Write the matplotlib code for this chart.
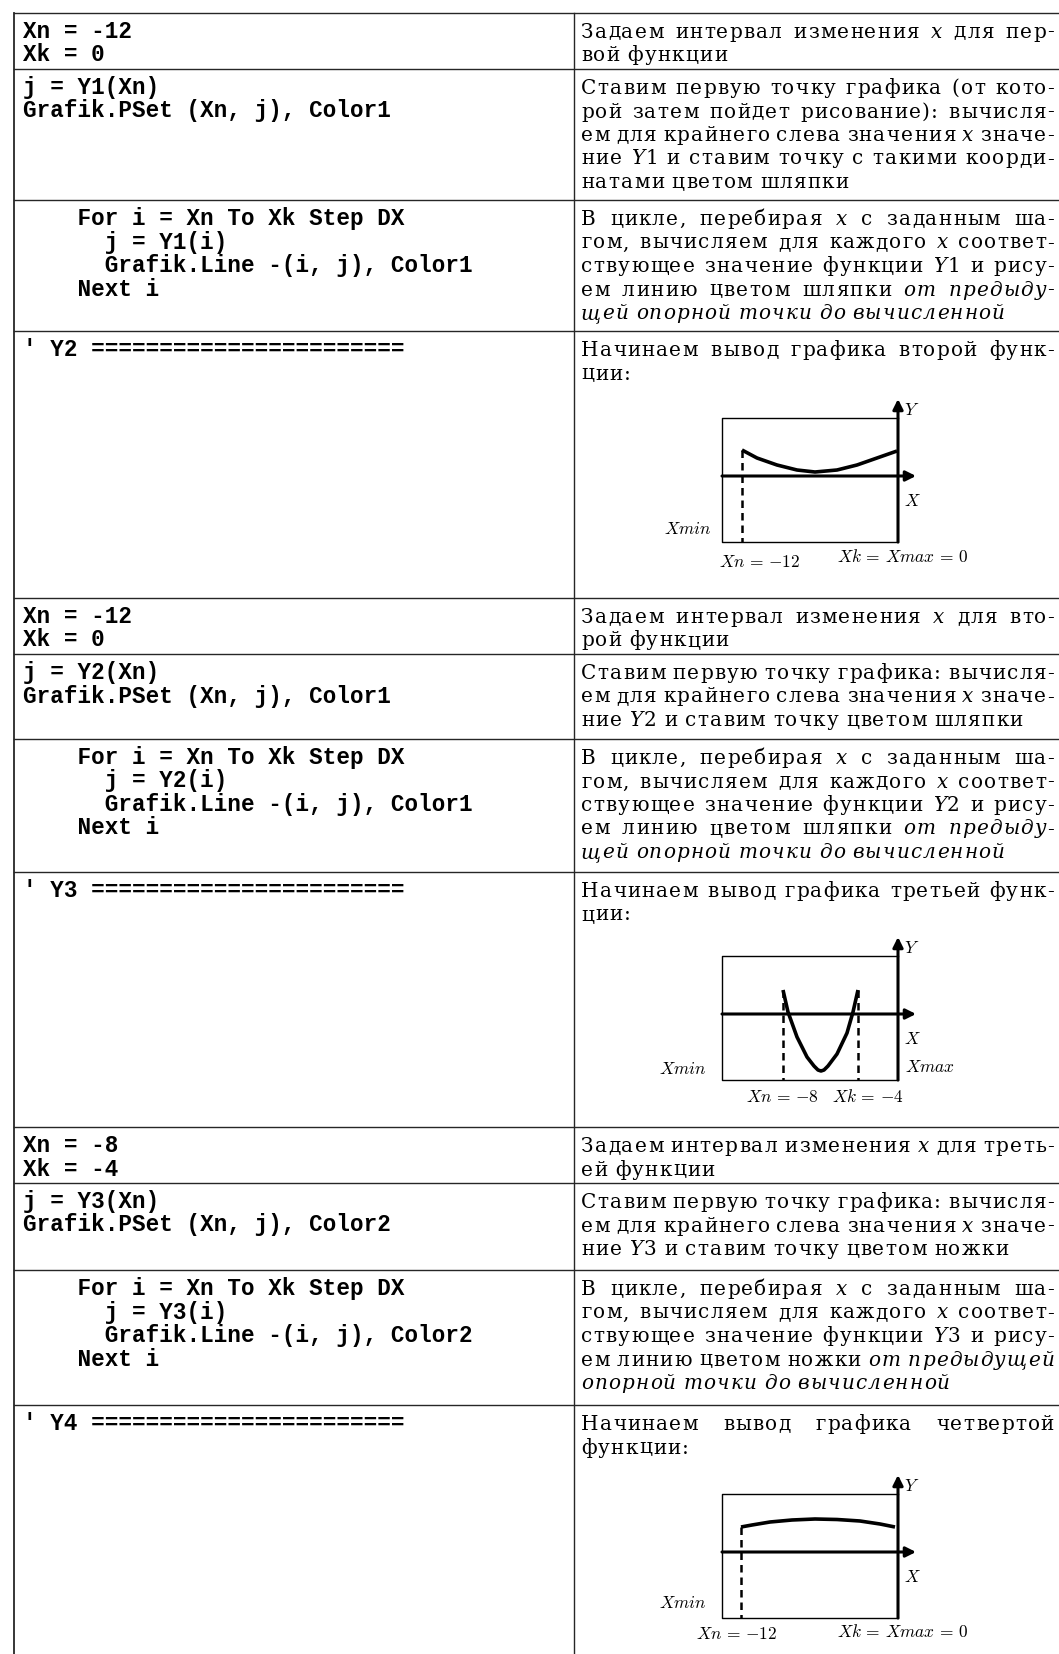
import matplotlib.pyplot as plt

W, H = 1059, 1654
plt.rcParams['mathtext.fontset'] = 'cm'

SERIF = 'DejaVu Serif'
MONO = 'Liberation Mono'
FS_TEXT = 14.4
FS_CODE = 16.3
FS_LAB = 12.5
TRACK = 1.2   # extra letter spacing, px

# table layout (pixels)
row_lines = [12.5, 69, 200, 331, 598, 654, 739, 872, 1127, 1183, 1270, 1405]
left_x = 14
col_x = 574
code_x = 23
text_x0, text_x1 = 581, 1054
first_base = 25
line_step = 23.5

code_cells = [
    ["Xn = -12", "Xk = 0"],
    ["j = Y1(Xn)", "Grafik.PSet (Xn, j), Color1"],
    ["    For i = Xn To Xk Step DX", "      j = Y1(i)",
     "      Grafik.Line -(i, j), Color1", "    Next i"],
    ["' Y2 ======================="],
    ["Xn = -12", "Xk = 0"],
    ["j = Y2(Xn)", "Grafik.PSet (Xn, j), Color1"],
    ["    For i = Xn To Xk Step DX", "      j = Y2(i)",
     "      Grafik.Line -(i, j), Color1", "    Next i"],
    ["' Y3 ======================="],
    ["Xn = -8", "Xk = -4"],
    ["j = Y3(Xn)", "Grafik.PSet (Xn, j), Color2"],
    ["    For i = Xn To Xk Step DX", "      j = Y3(i)",
     "      Grafik.Line -(i, j), Color2", "    Next i"],
    ["' Y4 ======================="],
]

# *...* = italic
text_cells = [
    ["Задаем интервал изменения *x* для пер-", "вой функции"],
    ["Ставим первую точку графика (от кото-", "рой затем пойдет рисование): вычисля-",
     "ем для крайнего слева значения *x* значе-", "ние *Y*1 и ставим точку с такими коорди-",
     "натами цветом шляпки"],
    ["В цикле, перебирая *x* с заданным ша-", "гом, вычисляем для каждого *x* соответ-",
     "ствующее значение функции *Y*1 и рису-", "ем линию цветом шляпки *от предыду-*",
     "*щей опорной точки до вычисленной*"],
    ["Начинаем вывод графика второй функ-", "ции:"],
    ["Задаем интервал изменения *x* для вто-", "рой функции"],
    ["Ставим первую точку графика: вычисля-", "ем для крайнего слева значения *x* значе-",
     "ние *Y*2 и ставим точку цветом шляпки"],
    ["В цикле, перебирая *x* с заданным ша-", "гом, вычисляем для каждого *x* соответ-",
     "ствующее значение функции *Y*2 и рису-", "ем линию цветом шляпки *от предыду-*",
     "*щей опорной точки до вычисленной*"],
    ["Начинаем вывод графика третьей функ-", "ции:"],
    ["Задаем интервал изменения *x* для треть-", "ей функции"],
    ["Ставим первую точку графика: вычисля-", "ем для крайнего слева значения *x* значе-",
     "ние *Y*3 и ставим точку цветом ножки"],
    ["В цикле, перебирая *x* с заданным ша-", "гом, вычисляем для каждого *x* соответ-",
     "ствующее значение функции *Y*3 и рису-", "ем линию цветом ножки *от предыдущей*",
     "*опорной точки до вычисленной*"],
    ["Начинаем вывод графика четвертой", "функции:"],
]

# sketch curves, pixels relative to the box corner (left, top)
curve1_x = [20, 35, 55, 75, 93, 115, 135, 155, 175]
curve1_y = [32, 40, 47, 52, 54, 52, 47, 40, 33]
curve2_x = [61, 66, 75, 85, 92, 96, 99, 102, 106, 115, 125, 131, 136]
curve2_y = [34, 56, 81, 101, 110, 114, 115, 114, 110, 98, 77, 56, 34]
curve3_x = [19, 30, 48, 70, 93, 115, 138, 158, 173]
curve3_y = [33, 31, 28, 26, 25, 25.5, 27, 30, 33]
dash1 = [20]
dash2 = [61, 136]
dash3 = [19]
labels1 = [(r'$Xmin$', -34, 111, 'center'), (r'$Xn\,=\,{-}12$', 38, 144, 'center'),
           (r'$Xk\,=\,Xmax\,=\,0$', 181, 139, 'center')]
labels2 = [(r'$Xmin$', -39, 113, 'center'), (r'$Xmax$', 183, 111, 'left'),
           (r'$Xn\,=\,{-}8$', 60, 141, 'center'), (r'$Xk\,=\,{-}4$', 146, 141, 'center')]
labels3 = [(r'$Xmin$', -39, 109, 'center'), (r'$Xn\,=\,{-}12$', 15, 140, 'center'),
           (r'$Xk\,=\,Xmax\,=\,0$', 181, 138, 'center')]

fig = plt.figure(figsize=(W / 100, H / 100), dpi=100)
ax = fig.add_axes([0, 0, 1, 1])
ax.set_xlim(0, W)
ax.set_ylim(H, 0)
ax.axis('off')
renderer = fig.canvas.get_renderer()

# grid
LC = '#262626'
ax.plot([left_x, left_x], [row_lines[0], H], color=LC, lw=1.3)
ax.plot([col_x, col_x], [row_lines[0], H], color=LC, lw=1.0)
for y in row_lines:
    ax.plot([left_x, W], [y, y], color=LC, lw=1.0)


def ink(s, ital):
    t = ax.text(0, 0, s, fontsize=FS_TEXT, family=SERIF,
                style='italic' if ital else 'normal')
    w = t.get_window_extent(renderer).width
    t.remove()
    return w

_adv = {}
def adv(c, ital):
    if (c, ital) not in _adv:
        _adv[(c, ital)] = ink('н' + c + 'н', ital) - ink('нн', ital)
    return _adv[(c, ital)]

SPACE = adv(' ', False)


def parse(line):
    words = [[]]
    for i, part in enumerate(line.split('*')):
        ital = i % 2 == 1
        pieces = part.split(' ')
        for k, p in enumerate(pieces):
            if k > 0:
                words.append([])
            if p:
                words[-1].append((p, ital))
    return [w for w in words if w]


def word_width(w):
    return sum(adv(c, it) + TRACK for s, it in w for c in s) - TRACK


def put_line(line, y, justify):
    words = parse(line)
    ws = [word_width(w) for w in words]
    gap = SPACE + TRACK
    if justify and len(words) > 1:
        gap = (text_x1 - text_x0 - sum(ws)) / (len(words) - 1)
    x = text_x0
    for w, wd in zip(words, ws):
        xx = x
        for s, it in w:
            for c in s:
                ax.text(xx, y, c, fontsize=FS_TEXT, family=SERIF,
                        style='italic' if it else 'normal', va='baseline', ha='left')
                xx += adv(c, it) + TRACK
        x += wd + gap


for r in range(len(code_cells)):
    top = row_lines[r]
    for k, s in enumerate(code_cells[r]):
        ax.text(code_x, top + first_base + k * line_step, s, fontsize=FS_CODE,
                family=MONO, weight='bold', va='baseline', ha='left')
    lines = text_cells[r]
    for k, s in enumerate(lines):
        put_line(s, top + first_base + k * line_step, k < len(lines) - 1)


def sketch(top, cx, cy, dashes, labels):
    left, bw, bh, axy = 722, 176, 124, 58
    right, bottom = left + bw, top + bh
    ax.plot([right, left, left, right], [top, top, bottom, bottom], color='black', lw=1.0)
    for d in dashes:
        y0 = cy[cx.index(d)]
        ax.plot([left + d, left + d], [top + y0, bottom], color='black', lw=1.8,
                ls=(0, (3, 2)))
    ax.plot([left + x for x in cx], [top + y for y in cy], color='black', lw=2.6,
            solid_capstyle='butt', solid_joinstyle='round')
    arrow = dict(arrowstyle='-|>', mutation_scale=15, lw=2.2, color='black',
                 shrinkA=0, shrinkB=0)
    ax.annotate('', xy=(right + 18, top + axy), xytext=(left, top + axy), arrowprops=arrow)
    ax.annotate('', xy=(right, top - 19), xytext=(right, bottom), arrowprops=arrow)
    ax.text(right + 6, top - 8, r'$Y$', fontsize=FS_LAB, va='center', ha='left')
    ax.text(right + 6, top + axy + 25, r'$X$', fontsize=FS_LAB, va='center', ha='left')
    for s, lx, ly, ha in labels:
        ax.text(left + lx, top + ly, s, fontsize=FS_LAB, va='center', ha=ha)


sketch(418, curve1_x, curve1_y, dash1, labels1)
sketch(956, curve2_x, curve2_y, dash2, labels2)
sketch(1494, curve3_x, curve3_y, dash3, labels3)

fig.savefig('out.png', dpi=100, facecolor='white')
